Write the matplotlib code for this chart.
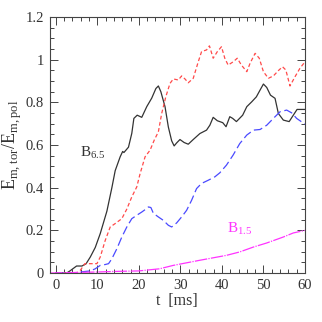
import numpy as np
import matplotlib
matplotlib.use("Agg")
import matplotlib.pyplot as plt
from matplotlib.ticker import MultipleLocator

plt.rcParams['font.family'] = ['Liberation Serif', 'DejaVu Serif']
plt.rcParams['mathtext.fontset'] = 'custom'
plt.rcParams['mathtext.rm'] = 'Liberation Serif'

# black solid, B6.5
t_b = [0, 2.6, 3.4, 5.0, 6.3, 7.3, 8.3, 9.5, 10.7, 12.3, 13.5, 14.3, 15.5, 16.1, 16.4, 17.5,
       18.3, 18.8, 19.6, 20.7, 21.9, 23.1, 24.1, 24.7, 25.3, 26.3, 27.1, 27.9, 28.5, 29.1,
       29.9, 30.9, 31.9, 33.1, 34.7, 36.3, 37.1, 37.9, 38.9, 40.2, 41.0, 41.9, 42.6, 43.5,
       45.0, 46.0, 47.2, 48.3, 49.2, 50.0, 50.8, 51.7, 52.8, 53.6, 54.8, 56.2, 57.2, 58.1, 60.0]
e_b = [0, 0, 0.01, 0.033, 0.033, 0.044, 0.075, 0.12, 0.185, 0.29, 0.40, 0.48, 0.545, 0.57,
       0.565, 0.59, 0.655, 0.725, 0.74, 0.73, 0.78, 0.82, 0.865, 0.877, 0.85, 0.78, 0.685,
       0.62, 0.596, 0.61, 0.626, 0.612, 0.604, 0.626, 0.654, 0.67, 0.693, 0.73, 0.714, 0.705,
       0.686, 0.733, 0.725, 0.71, 0.74, 0.78, 0.803, 0.826, 0.858, 0.886, 0.87, 0.834, 0.819,
       0.748, 0.717, 0.71, 0.74, 0.767, 0.767]

# red short dashes
t_r = [0, 5.0, 5.9, 7.0, 8.7, 9.9, 10.7, 11.9, 13.1, 14.3, 15.9, 17.1, 18.3, 19.5, 20.3, 21.5,
       22.7, 23.7, 24.7, 25.5, 26.5, 27.5, 28.3, 29.5, 30.3, 31.1, 31.9, 33.1, 34.3, 35.1,
       36.3, 37.0, 37.9, 38.9, 39.9, 40.7, 41.5, 42.7, 43.7, 44.7, 46.0, 46.8, 48.0, 49.0,
       50.0, 51.2, 52.4, 53.6, 54.6, 55.4, 56.4, 57.6, 58.8, 60.0]
e_r = [0, 0, 0.013, 0.044, 0.044, 0.044, 0.075, 0.153, 0.216, 0.232, 0.255, 0.30, 0.357,
       0.404, 0.466, 0.545, 0.576, 0.623, 0.662, 0.748, 0.827, 0.889, 0.91, 0.905, 0.924,
       0.91, 0.892, 0.913, 0.99, 1.038, 1.046, 1.065, 1.007, 1.038, 1.061, 1.007, 0.975,
       0.99, 1.007, 0.975, 0.944, 0.984, 1.03, 1.007, 0.944, 0.913, 0.924, 0.949, 0.967,
       0.952, 0.877, 0.92, 0.96, 0.99]

# blue long dashes
t_u = [0, 4.2, 5.9, 8.3, 9.5, 10.7, 11.9, 12.7, 13.5, 14.7, 15.9, 17.1, 18.3, 19.5, 20.7,
       21.7, 22.3, 22.9, 23.5, 24.7, 25.9, 27.1, 27.9, 29.1, 30.3, 31.5, 32.7, 33.9, 35.1,
       36.7, 38.3, 39.5, 41.1, 42.7, 44.3, 46.0, 47.6, 49.2, 50.8, 52.4, 54.0, 55.6, 56.8,
       58.0, 60.0]
e_u = [0, 0, 0.005, 0.01, 0.02, 0.036, 0.04, 0.044, 0.067, 0.114, 0.169, 0.216, 0.255,
       0.271, 0.286, 0.30, 0.31, 0.307, 0.28, 0.263, 0.247, 0.224, 0.216, 0.235, 0.263,
       0.294, 0.341, 0.396, 0.42, 0.435, 0.451, 0.47, 0.506, 0.553, 0.607, 0.647, 0.67,
       0.673, 0.693, 0.725, 0.756, 0.764, 0.751, 0.725, 0.698]

# magenta, B1.5
t_m = [-1.5, 5, 10, 15, 20, 25, 28.3, 34.7, 41.1, 44.3, 47.6, 50.8, 54.8, 57.2, 60.0]
e_m = [0, 0.003, 0.005, 0.008, 0.01, 0.02, 0.036, 0.06, 0.083, 0.099, 0.122, 0.141,
       0.169, 0.188, 0.2]

fig = plt.figure(figsize=(3.22, 3.22), dpi=100)
ax = fig.add_axes([0.154, 0.152, 0.793, 0.795])

ax.plot(t_b, e_b, color='#333333', lw=0.9)
ax.plot(t_r, e_r, color='#ff4a4a', lw=0.9, dashes=(3, 2))
ax.plot(t_u, e_u, color='#4a4aff', lw=0.9, dashes=(7, 3))
ax.plot(t_m, e_m, color='#ff33ff', lw=0.9, dashes=(10, 1, 1, 1))

ax.text(5.9, 0.545, r'B$_{6.5}$', fontsize=11, color='#333333')
ax.text(41.3, 0.19, r'B$_{1.5}$', fontsize=11, color='#ff33ff')

ax.set_xlim(-1.5, 60)
ax.set_ylim(0, 1.2)
ax.xaxis.set_major_locator(MultipleLocator(10))
ax.xaxis.set_minor_locator(MultipleLocator(2))
ax.yaxis.set_major_locator(MultipleLocator(0.2))
ax.yaxis.set_minor_locator(MultipleLocator(0.05))
ax.set_yticks([0, 0.2, 0.4, 0.6, 0.8, 1.0, 1.2])
ax.set_yticklabels(['0', '0.2', '0.4', '0.6', '0.8', '1', '1.2'])
ax.tick_params(which='both', direction='in', top=True, right=True, labelsize=10.5,
               color='#444444', width=0.7, labelcolor='#333333')
ax.tick_params(which='major', length=6, pad=4)
ax.tick_params(which='minor', length=3)
for s in ax.spines.values():
    s.set_linewidth(0.8)
    s.set_color('#444444')

ax.set_xlabel('t  [ms]', fontsize=11.5, labelpad=1, color='#333333')
ax.set_ylabel(r'E$_{\rm m,tor}$/E$_{\rm m,pol}$', fontsize=13, labelpad=1, color='#333333')

fig.savefig('out.png', dpi=100)
